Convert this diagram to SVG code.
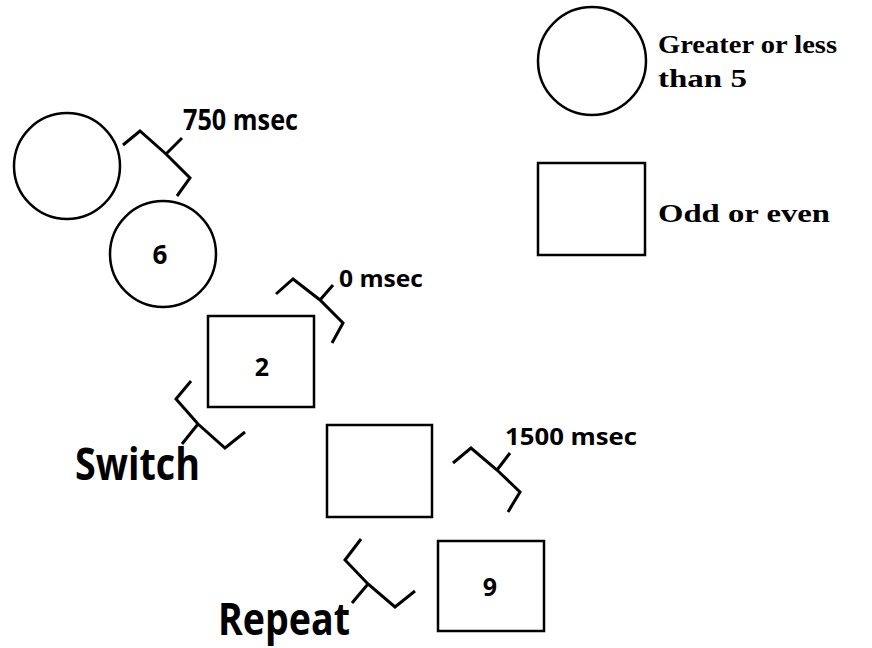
<svg xmlns="http://www.w3.org/2000/svg" width="872" height="648" viewBox="0 0 872 648">
<style>
.shape{fill:none;stroke:#000;stroke-width:2.5}
.brace{fill:none;stroke:#000;stroke-width:3;stroke-linejoin:miter;stroke-linecap:butt}
.sans{font-family:"Open Sans","Liberation Sans",sans-serif;font-weight:bold;fill:#000}
.serif{font-family:"Liberation Serif","DejaVu Serif",serif;font-weight:bold;fill:#000}
</style>
<rect width="872" height="648" fill="#fff"/>
<g id="circle-a"><circle class="shape" cx="67" cy="166" r="53"/></g>
<g id="circle-6"><circle class="shape" cx="163" cy="254" r="53"/><text class="sans" x="160" y="264" font-size="26" text-anchor="middle">6</text></g>
<g id="square-2"><rect class="shape" x="208" y="316" width="106" height="91"/><text class="sans" x="262" y="376" font-size="25" text-anchor="middle">2</text></g>
<g id="square-b"><rect class="shape" x="327" y="425" width="105" height="92"/></g>
<g id="square-9"><rect class="shape" x="438" y="541" width="106" height="90"/><text class="sans" x="490" y="596" font-size="25" text-anchor="middle">9</text></g>
<g id="legend-circle"><circle class="shape" cx="592" cy="61" r="54"/><text class="serif" x="658" y="53" font-size="26" textLength="179" lengthAdjust="spacingAndGlyphs">Greater or less</text><text class="serif" x="658" y="87" font-size="26" textLength="89" lengthAdjust="spacingAndGlyphs">than 5</text></g>
<g id="legend-square"><rect class="shape" x="538" y="163" width="107" height="92"/><text class="serif" x="658" y="222" font-size="26" textLength="172" lengthAdjust="spacingAndGlyphs">Odd or even</text></g>
<g id="connectors">
<path class="brace" d="M123,145 L140,131 L166,154 L190,178 L177,196 M166,154 L182,138"/>
<path class="brace" d="M276,294 L293,279 L320,300 L343,323 L332,343 M320,300 L333,285"/>
<path class="brace" d="M453,463 L471,448 L497,470 L520,492 L508,512 M497,470 L510,453"/>
<path class="brace" d="M191,381 L176,399 L198,424 L225,448 L245,432 M198,424 L182,444"/>
<path class="brace" d="M361,539 L345,560 L368,584 L395,607 L415,591 M368,584 L352,603"/>
</g>
<g id="labels">
<text class="sans" x="183" y="130" font-size="28" textLength="115" lengthAdjust="spacingAndGlyphs">750 msec</text>
<text class="sans" x="339" y="287" font-size="23" textLength="84" lengthAdjust="spacingAndGlyphs">0 msec</text>
<text class="sans" x="505" y="445" font-size="24" textLength="132" lengthAdjust="spacingAndGlyphs">1500 msec</text>
<text class="sans" x="75" y="480" font-size="45" textLength="125" lengthAdjust="spacingAndGlyphs">Switch</text>
<text class="sans" x="218" y="635" font-size="45" textLength="132" lengthAdjust="spacingAndGlyphs">Repeat</text>
</g>
</svg>
